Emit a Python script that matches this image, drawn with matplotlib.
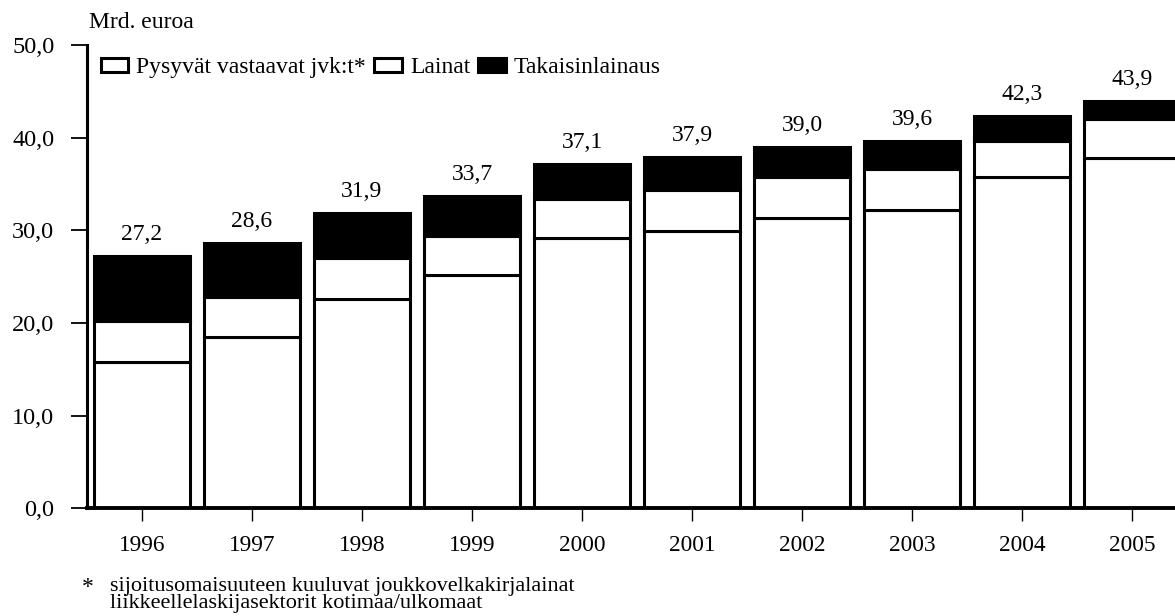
import matplotlib
matplotlib.use("Agg")
import matplotlib.pyplot as plt
import numpy as np

plt.rcParams['font.family'] = ['Liberation Serif', 'DejaVu Serif']

# Data (Mrd. euroa)
years = ['1996', '1997', '1998', '1999', '2000', '2001', '2002', '2003', '2004', '2005']
pysyvat = [15.8, 18.5, 22.6, 25.2, 29.2, 29.9, 31.3, 32.2, 35.7, 37.8]
lainat = [4.4, 4.3, 4.4, 4.2, 4.2, 4.4, 4.4, 4.4, 3.9, 4.2]
totals = [27.2, 28.6, 31.9, 33.7, 37.1, 37.9, 39.0, 39.6, 42.3, 43.9]
takaisin = [t - p - l for t, p, l in zip(totals, pysyvat, lainat)]
total_labels = ['27,2', '28,6', '31,9', '33,7', '37,1', '37,9', '39,0', '39,6', '42,3', '43,9']
y_ticks = [0, 10, 20, 30, 40, 50]
y_ticklabels = ['0,0', '10,0', '20,0', '30,0', '40,0', '50,0']

fig = plt.figure(figsize=(11.75, 6.16), dpi=100)
ax = fig.add_axes([0.074, 0.175, 0.926, 0.752])

x = np.arange(len(years))
w = 0.87
lw = 2.2
ax.bar(x, pysyvat, w, color='white', edgecolor='black', linewidth=lw,
       label='Pysyvät vastaavat jvk:t*')
ax.bar(x, lainat, w, bottom=pysyvat, color='white', edgecolor='black',
       linewidth=lw, label='Lainat')
bottom2 = [p + l for p, l in zip(pysyvat, lainat)]
ax.bar(x, takaisin, w, bottom=bottom2, color='black', edgecolor='black',
       linewidth=lw, label='Takaisinlainaus')

for xi, t, lab in zip(x, totals, total_labels):
    ax.annotate(lab, (xi, t), xytext=(0, 8), textcoords='offset points',
                ha='center', va='bottom', fontsize=17)

ax.set_ylim(0, 50)
ax.set_xlim(-0.5, len(years) - 1 + 0.39)
ax.set_yticks(y_ticks)
ax.set_yticklabels(y_ticklabels, fontsize=17.5)
ax.set_xticks(x)
ax.set_xticklabels(years, fontsize=16.8)

for s in ['top', 'right']:
    ax.spines[s].set_visible(False)
ax.spines['left'].set_linewidth(2.2)
ax.spines['bottom'].set_linewidth(2.8)
ax.tick_params(axis='y', direction='out', length=11.5, width=1.3, pad=12)
ax.tick_params(axis='x', direction='out', length=9, width=1.0, pad=10)

fig.text(0.0757, 0.963, 'Mrd. euroa', fontsize=17, va='center', ha='left')

ax.legend(loc='center left', bbox_to_anchor=(0.086, 0.89),
          bbox_transform=fig.transFigure, ncol=3, frameon=False,
          fontsize=17, handlelength=1.15, handleheight=0.55,
          handletextpad=0.35, columnspacing=0.35, borderpad=0.0,
          borderaxespad=0.0)

fig.text(0.070, 0.046, '*', fontsize=17, va='center', ha='left')
fig.text(0.094, 0.034, 'sijoitusomaisuuteen kuuluvat joukkovelkakirjalainat\nliikkeellelaskijasektorit kotimaa/ulkomaat',
         fontsize=16, va='center', ha='left', linespacing=0.8)

fig.savefig('out.png', dpi=100)
